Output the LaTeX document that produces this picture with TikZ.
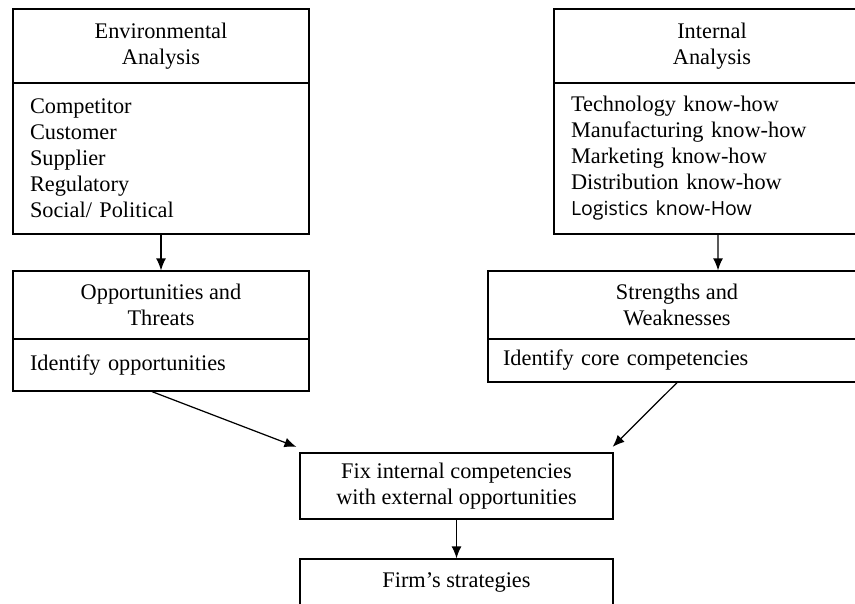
\documentclass[tikz,border=0pt]{standalone}
\usepackage{fontspec}
\setmainfont{Liberation Serif}
\newfontfamily\logfont{Open Sans}
\usetikzlibrary{
    arrows,
    arrows.meta,
    positioning
}

\begin{document}
\begin{tikzpicture}[
    font=\fontsize{12.7}{14.8}\selectfont,
    box/.style={draw=black, line width=0.7pt, inner ysep=0pt, align=center},
    listbox/.style={box, align=left, inner xsep=0.34cm},
    >={Latex[length=6.8pt, width=5.6pt]},
    every edge/.style={draw, line width=0.7pt}
]
                        \useasboundingbox (0, 0) rectangle (17.1, -12.06);
                        \clip (0, 0) rectangle (17.1, -12.06);

                        \node[box, minimum width=5.92cm, minimum height=1.48cm] (envhead) at (3.22, -0.92) {Environmental\\Analysis};
                        \node[listbox, text width=5.24cm, minimum height=3.02cm] (envbody) at (3.22, -3.17) {Competitor\\Customer\\Supplier\\Regulatory\\Social/ Political};
                        \node[box, minimum width=6.32cm, minimum height=1.48cm] (inthead) at (14.24, -0.92) {Internal\\Analysis};
                        \node[listbox, text width=5.64cm, minimum height=3.02cm] (intbody) at (14.24, -3.17) {Technology know-how\\Manufacturing know-how\\Marketing know-how\\Distribution know-how\\{\logfont\fontsize{11.1}{14.8}\selectfont Logistics know-How}};

                        \node[box, minimum width=5.92cm, minimum height=1.36cm] (opphead) at (3.22, -6.10) {Opportunities and\\Threats};
                        \node[listbox, text width=5.24cm, minimum height=1.04cm] (oppbody) at (3.22, -7.30) {\raisebox{0.07cm}{Identify opportunities}};
                        \node[box, minimum width=7.56cm, minimum height=1.36cm] (strhead) at (13.54, -6.10) {Strengths and\\Weaknesses};
                        \node[listbox, inner xsep=0.3cm, text width=6.96cm, minimum height=0.86cm] (strbody) at (13.54, -7.21) {Identify core competencies};

                        \node[box, minimum width=6.26cm, minimum height=1.32cm] (fix) at (9.13, -9.72) {Fix internal competencies\\with external opportunities};
                        \node[box, minimum width=6.26cm, minimum height=0.92cm] (firm) at (9.13, -11.64) {Firm's strategies};

                        \draw
                        (envbody.south) edge[->] (opphead.north)
                        ([xshift=0.12cm]intbody.south) edge[->] ([xshift=0.82cm]strhead.north)
                        ([xshift=-0.18cm]oppbody.south) edge[->] ([shift={(-0.06, 0.11)}]fix.north west)
                        ([xshift=0cm]strbody.south) edge[->] ([shift={(-0.02, 0.11)}]fix.north east)
                        (fix.south) edge[->] (firm.north);
                    \end{tikzpicture}
\end{document}
